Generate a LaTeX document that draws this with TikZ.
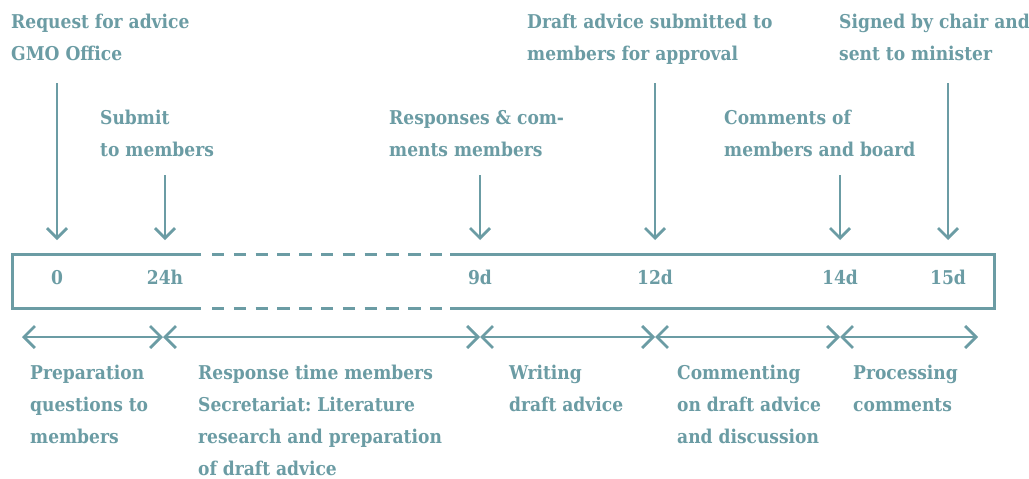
\documentclass[tikz,border=0pt]{standalone}
\usepackage{fontspec}
\setmainfont{DejaVu Serif Condensed}[BoldFont={DejaVu Serif Condensed Bold}]
\frenchspacing
\usepackage{xcolor}
\usepackage{tikz}
\usetikzlibrary{arrows.meta}
\definecolor{bg}{HTML}{FFFFFF}
\definecolor{teal}{HTML}{6B9CA4}
\tikzset{
  base/.style={draw=teal, line width=3pt},
  gapline/.style={draw=teal, line width=3pt, dash pattern=on 12.4pt off 9.4pt},
  down/.style={draw=teal, line width=2.8pt, -{Straight Barb[length=10pt,width=20pt,line width=2.8pt]}},
  span/.style={draw=teal, line width=2.8pt, {Straight Barb[length=11pt,width=22pt,line width=2.8pt]}-{Straight Barb[length=11pt,width=22pt,line width=2.8pt]}},
  lab/.style={text=teal, font=\fontsize{19}{32}\selectfont\bfseries, anchor=north west, align=left, inner sep=0pt},
  tick/.style={text=teal, font=\fontsize{19}{22}\selectfont\bfseries, anchor=base, inner sep=0pt},
}
\begin{document}
\begin{tikzpicture}[x=1pt,y=-1pt]
  \useasboundingbox[fill=bg] (0,0) rectangle (1029,479);

  % box
  \draw[base] (201,254) -- (12,254) -- (12,308) -- (201,308);
  \draw[base] (450,254) -- (994,254) -- (994,308) -- (450,308);
  \draw[gapline] (212,254) -- (450,254);
  \draw[gapline] (212,308) -- (450,308);

  % ticks and arrows in
  \foreach \i/\x/\y/\t in {1/57/83/0,2/165/175/24h,3/480/175/9d,4/655/83/12d,5/840/175/14d,6/948/83/15d}{
    \node[tick] (t\i) at (\x,284) {\t};
    \coordinate (a\i) at (\x,\y);
    \coordinate (e\i) at (\x,240);
    \draw[down] (a\i) -- (e\i);
  }

  % spans
  \foreach \i/\x in {0/22,1/163,2/480,3/655,4/840,5/978}{
    \coordinate (m\i) at (\x,337);
  }
  \foreach \i [evaluate=\i as \j using int(\i+1)] in {0,...,4}{
    \draw[span] (m\i) -- (m\j);
  }

  % labels above
  \node[lab] (q1) at (11,14) {Request for advice\\GMO Office};
  \node[lab] (q2) at (100,110) {Submit\\to members};
  \node[lab] (q3) at (389,110) {Responses \& com-\\ments members};
  \node[lab] (q4) at (527,14) {Draft advice submitted to\\members for approval};
  \node[lab] (q5) at (724,110) {Comments of\\members and board};
  \node[lab] (q6) at (839,14) {Signed by chair and\\sent to minister};

  % labels below
  \node[lab] (p1) at (30,365) {Preparation\\questions to\\members};
  \node[lab] (p2) at (198,365) {Response time members\\Secretariat: Literature\\research and preparation\\of draft advice};
  \node[lab] (p3) at (509,365) {Writing\\draft advice};
  \node[lab] (p4) at (677,365) {Commenting\\on draft advice\\and discussion};
  \node[lab] (p5) at (853,365) {Processing\\comments};
\end{tikzpicture}
\end{document}
